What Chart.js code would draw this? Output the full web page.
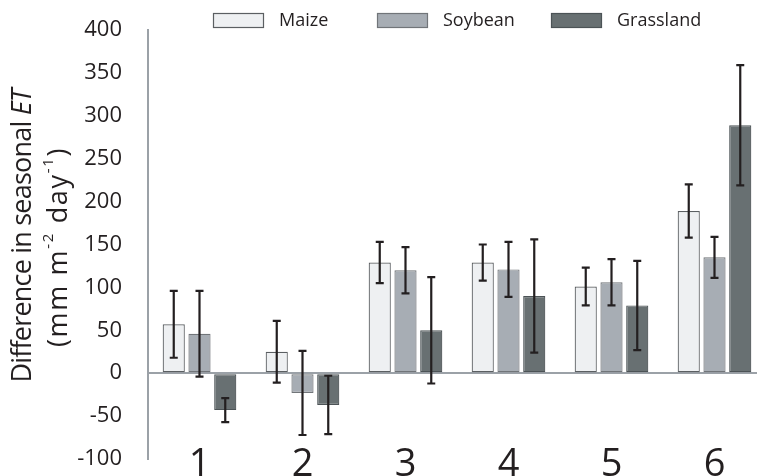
<!DOCTYPE html>
<html>
<head>
<meta charset="utf-8">
<script src="https://cdn.jsdelivr.net/npm/chart.js@4.4.1/dist/chart.umd.min.js"></script>
<style>
  html, body { margin: 0; padding: 0; background: #fff; overflow: hidden; }
  #wrap { width: 766px; height: 476px; }
</style>
</head>
<body>
<div id="wrap"><canvas id="etChart" width="766" height="476"></canvas></div>
<script>
// seasonal ET difference, bars with error bars

var sites = ["1", "2", "3", "4", "5", "6"];
var seriesNames = ["Maize", "Soybean", "Grassland"];
var maize = [57, 25, 129, 129, 101, 189];
var maizeErr = [39, 36, 24, 21, 22, 31];
var soybean = [46, -23, 120, 121, 106, 135];
var soybeanErr = [50, 49, 27, 32, 27, 24];
var grassland = [-43, -37, 50, 90, 79, 289];
var grasslandErr = [14, 34, 62, 66, 52, 70];
var yTicks = { min: -100, max: 400, step: 50 };

var inkColor = "#231f20";
var axisGrey = "#9ba1a7";
var fontFamily = "'Open Sans', 'DejaVu Sans', sans-serif";

// error bars drawn from each bar's value +/- err through the y scale
var errorBars = {
	id: "errorBars",
	afterDatasetsDraw(chart) {
		var ctx = chart.ctx;
		var y = chart.scales.y;
		ctx.save();
		ctx.strokeStyle = inkColor;
		ctx.lineWidth = 2.2;
		chart.data.datasets.forEach(function (ds, i) {
			chart.getDatasetMeta(i).data.forEach(function (bar, j) {
				var v = ds.data[j], e = ds.err[j];
				var top = y.getPixelForValue(v + e);
				var bot = y.getPixelForValue(v - e);
				var x = bar.x;
				ctx.beginPath();
				ctx.moveTo(x, top);
				ctx.lineTo(x, bot);
				ctx.moveTo(x - 4, top);
				ctx.lineTo(x + 4, top);
				ctx.moveTo(x - 4, bot);
				ctx.lineTo(x + 4, bot);
				ctx.stroke();
			});
		});
		ctx.restore();
	},
};

// legend boxes along the top
var topLegend = {
	id: "topLegend",
	afterDraw(chart) {
		var ctx = chart.ctx;
		var xs = [213, 377, 551];
		ctx.save();
		ctx.font = "18px " + fontFamily;
		ctx.textBaseline = "middle";
		chart.data.datasets.forEach(function (ds, i) {
			ctx.fillStyle = ds.backgroundColor;
			ctx.fillRect(xs[i], 13, 51, 15);
			ctx.strokeStyle = ds.borderColor;
			ctx.lineWidth = 1.2;
			ctx.strokeRect(xs[i] + 0.5, 13.5, 50, 14);
			ctx.fillStyle = inkColor;
			ctx.fillText(ds.label, xs[i] + 66, 21);
		});
		ctx.restore();
	},
};

// rotated y title with italic ET and superscripts
var yTitle = {
	id: "yTitle",
	afterDraw(chart) {
		var ctx = chart.ctx;
		var big = "27px " + fontFamily;
		var sup = "15px " + fontFamily;
		var lines = [
			{ cx: 23, cy: 236, len: 293, parts: [
				{ t: "Difference in seasonal ", f: big, dy: 0 },
				{ t: "ET", f: "italic " + big, dy: 0 },
			] },
			{ cx: 59, cy: 247, len: 200, parts: [
				{ t: "(mm m", f: big, dy: 0 },
				{ t: "-2", f: sup, dy: -10 },
				{ t: " day", f: big, dy: 0 },
				{ t: "-1", f: sup, dy: -10 },
				{ t: ")", f: big, dy: 0 },
			] },
		];
		ctx.save();
		ctx.fillStyle = inkColor;
		ctx.textBaseline = "middle";
		lines.forEach(function (ln) {
			var total = 0, chars = 0;
			ctx.letterSpacing = "0px";
			ln.parts.forEach(function (p) {
				ctx.font = p.f;
				p.w = ctx.measureText(p.t).width;
				total += p.w;
				chars += p.t.length;
			});
			var sp = Math.min(Math.max((ln.len - total) / chars, -1), 2);
			var used = total + sp * chars;
			ctx.save();
			ctx.translate(ln.cx, ln.cy);
			ctx.rotate(-Math.PI / 2);
			var x = -used / 2;
			ln.parts.forEach(function (p) {
				ctx.font = p.f;
				ctx.letterSpacing = sp.toFixed(2) + "px";
				ctx.fillText(p.t, x, p.dy);
				x += p.w + sp * p.t.length;
			});
			ctx.restore();
		});
		ctx.restore();
	},
};

var etCanvas = document.getElementById("etChart");
var etChart = new Chart(etCanvas, {
	type: "bar",
	data: {
		labels: sites,
		datasets: [
			{
				label: seriesNames[0],
				data: maize,
				err: maizeErr,
				backgroundColor: "#eef0f2",
				borderColor: "#5b5f62",
				borderWidth: 1.2,
				borderSkipped: false,
			},
			{
				label: seriesNames[1],
				data: soybean,
				err: soybeanErr,
				backgroundColor: "#a7adb4",
				borderColor: "#717579",
				borderWidth: 1.2,
				borderSkipped: false,
			},
			{
				label: seriesNames[2],
				data: grassland,
				err: grasslandErr,
				backgroundColor: "#687072",
				borderColor: "#4c5356",
				borderWidth: 1.2,
				borderSkipped: false,
			},
		],
	},
	options: {
		responsive: false,
		animation: false,
		layout: { padding: { top: 30, left: 0, right: 0, bottom: 0 } },
		datasets: {
			bar: { categoryPercentage: 0.75, barPercentage: 0.86 },
		},
		plugins: {
			legend: { display: false },
			tooltip: { enabled: false },
		},
		scales: {
			x: {
				grid: { display: false, drawTicks: false },
				border: { display: false },
				ticks: {
					color: inkColor,
					font: { family: fontFamily, size: 38 },
					mirror: true,
					padding: -29,
					maxRotation: 0,
				},
				afterFit(scale) {
					scale.height = 17;
				},
			},
			y: {
				min: yTicks.min,
				max: yTicks.max,
				grid: {
					drawTicks: true,
					tickLength: 26,
					tickColor: "transparent",
					color: function (c) {
						return c.tick && c.tick.value === 0 ? axisGrey : "transparent";
					},
					lineWidth: 2,
				},
				border: { display: true, color: axisGrey, width: 2 },
				ticks: {
					stepSize: yTicks.step,
					color: inkColor,
					font: { family: fontFamily, size: 22 },
					padding: 0,
				},
				afterFit(scale) {
					scale.width = 148;
				},
			},
		},
	},
	plugins: [errorBars, topLegend, yTitle],
});
</script>
</body>
</html>
